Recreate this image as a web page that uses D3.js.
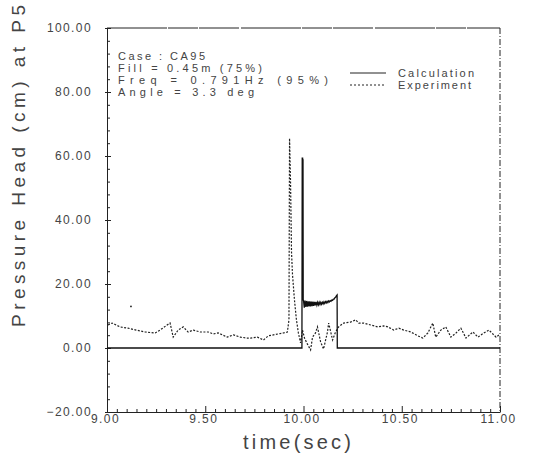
<!DOCTYPE html>
<html>
<head>
<meta charset="utf-8">
<script src="https://cdn.jsdelivr.net/npm/d3@7"></script>
<style>
  body { margin: 0; background: #fff; }
  text { font-family: "Liberation Sans", Arial, sans-serif; fill: #333; }
</style>
</head>
<body>
<div class="chart"></div>
<script>

// Axis ticks and labels
var xMajor = [9.00, 9.50, 10.00, 10.50, 11.00];
var yMajor = [-20, 0, 20, 40, 60, 80, 100];

// Annotation and legend text
var caseLines = ["Case : CA95", "Fill = 0.45m (75%)", "Freq = 0.791Hz (95%)", "Angle = 3.3 deg"];
var seriesNames = ["Calculation", "Experiment"];

// Calculation (solid): time (sec) and pressure head (cm)
var calcTime = [9.000, 9.992, 9.9935, 9.9945, 9.9955, 9.9965, 9.9975, 9.9985,
  10.000, 10.004, 10.008, 10.012, 10.016, 10.020, 10.024, 10.028, 10.032, 10.036,
  10.040, 10.044, 10.048, 10.052, 10.056, 10.060, 10.064, 10.068, 10.072, 10.076,
  10.080, 10.084, 10.088, 10.092, 10.096, 10.100, 10.104, 10.108, 10.112, 10.116,
  10.120, 10.124, 10.128, 10.132, 10.136, 10.140, 10.144, 10.148, 10.152, 10.156,
  10.160, 10.164, 10.168, 10.171, 10.172, 11.000];
var calcHead = [0, 0, 59.5, 57.0, 59.5, 57.5, 59.0, 15.0,
  14.9, 12.6, 14.8, 12.8, 14.7, 12.9, 14.6, 13.0, 14.6, 13.0,
  14.5, 13.1, 14.5, 13.2, 14.4, 13.3, 14.4, 13.4, 14.3, 13.5,
  14.3, 13.6, 14.3, 13.7, 14.3, 13.8, 14.4, 13.9, 14.5, 14.1,
  14.6, 14.2, 14.7, 14.4, 14.8, 14.6, 15.0, 14.9, 15.3, 15.3,
  15.7, 15.9, 16.4, 16.6, 0, 0];

// Experiment (dotted): time (sec) and pressure head (cm)
var expTime = [9.005, 9.026, 9.066, 9.107, 9.148, 9.194, 9.245, 9.270, 9.306, 9.321,
  9.337, 9.362, 9.388, 9.413, 9.439, 9.474, 9.515, 9.541, 9.566, 9.612,
  9.643, 9.679, 9.714, 9.730, 9.765, 9.796, 9.821, 9.847, 9.872, 9.898,
  9.918, 9.926, 9.929, 9.934, 9.939, 9.944, 9.954, 9.964, 9.974, 9.985,
  9.995, 10.005, 10.020, 10.036, 10.046, 10.061, 10.071, 10.087, 10.102, 10.122,
  10.128, 10.148, 10.163, 10.179, 10.204, 10.240, 10.265, 10.281, 10.306, 10.342,
  10.378, 10.408, 10.429, 10.459, 10.485, 10.510, 10.546, 10.582, 10.607, 10.633,
  10.658, 10.673, 10.699, 10.724, 10.750, 10.776, 10.801, 10.827, 10.862, 10.888,
  10.918, 10.944, 10.980, 10.995];
var expHead = [7.2, 7.8, 6.6, 6.2, 5.6, 5.0, 4.7, 5.6, 7.2, 7.8,
  3.4, 5.6, 6.6, 5.0, 5.6, 5.0, 5.0, 4.4, 4.7, 3.4,
  4.1, 3.4, 3.1, 3.1, 3.4, 2.5, 3.8, 4.1, 4.4, 4.7,
  5.0, 8.8, 65.5, 52.0, 30.0, 23.0, 15.0, 8.8, 4.7, 1.6,
  5.6, 3.1, 1.2, -0.6, 3.4, 4.7, 6.6, 1.9, -0.3, 5.0,
  7.8, 2.5, 5.0, 6.6, 7.8, 8.1, 8.8, 7.8, 7.8, 7.2,
  6.6, 6.9, 6.6, 5.6, 6.2, 5.6, 5.0, 3.8, 3.1, 4.7,
  7.8, 3.4, 5.6, 6.6, 3.4, 4.7, 6.2, 3.1, 5.0, 3.4,
  4.7, 5.6, 3.4, 4.1];
var expStray = [{t: 9.122, v: 13.0}];

/*
    Prepare chart
*/

  var width = 549,
      height = 459,
      margin = {top: 28, right: 50, bottom: 47, left: 107},
      format = d3.format(".2f");

  var svg = d3.select("div.chart")
              .append("svg")
                .attr("width", width)
                .attr("height", height);

  var x = d3.scaleLinear()
            .domain([9, 11])
            .range([margin.left, width - margin.right + 1]);

  var y = d3.scaleLinear()
            .domain([-20, 100])
            .range([height - margin.bottom, margin.top]);

  // Minor ticks
  var xMinor = d3.range(9, 11.001, 0.05).filter(function(d) {
    return Math.abs(d * 2 - Math.round(d * 2)) > 1e-6;
  });
  var yMinor = d3.range(-20, 100.001, 4).filter(function(d) { return d % 20 !== 0; });

  // Frame: top and right
  svg.append("line")
      .attr("x1", x(9)).attr("x2", x(11))
      .attr("y1", y(100)).attr("y2", y(100))
      .style("stroke", "#222").style("stroke-width", 1)
      .style("stroke-dasharray", "60,1,30,1,40,2");

  svg.append("line")
      .attr("x1", x(11)).attr("x2", x(11))
      .attr("y1", y(100)).attr("y2", y(-20))
      .style("stroke", "#222").style("stroke-width", 1)
      .style("stroke-dasharray", "6,2,1,2");

  // Bottom axis
  var xAxis = svg.append("g")
      .attr("transform", "translate(0," + y(-20) + ")")
      .call(d3.axisBottom(x).tickValues(xMajor).tickFormat(format)
              .tickSizeInner(-6).tickSizeOuter(0).tickPadding(2));

  svg.append("g")
      .attr("transform", "translate(0," + y(-20) + ")")
      .call(d3.axisBottom(x).tickValues(xMinor).tickFormat("")
              .tickSizeInner(-3).tickSizeOuter(0))
      .call(function(g) { g.select(".domain").remove(); });

  // Left axis
  var yAxis = svg.append("g")
      .attr("transform", "translate(" + x(9) + ",0)")
      .call(d3.axisLeft(y).tickValues(yMajor).tickFormat(function(d) {
                return d < 0 ? "\u2212" + format(-d) : format(d);
              })
              .tickSizeInner(-4).tickSizeOuter(0).tickPadding(15));

  svg.append("g")
      .attr("transform", "translate(" + x(9) + ",0)")
      .call(d3.axisLeft(y).tickValues(yMinor).tickFormat("")
              .tickSizeInner(-3).tickSizeOuter(0))
      .call(function(g) { g.select(".domain").remove(); });

  // Axis styling
  svg.selectAll(".domain, .tick line")
      .style("stroke", "#222")
      .style("stroke-width", 1);

  svg.selectAll(".tick text")
      .style("font-family", "Liberation Sans, Arial, sans-serif")
      .style("font-size", "12px")
      .style("letter-spacing", "1.4px")
      .style("fill", "#444");

  xAxis.selectAll(".tick text").attr("dx", "-2");
  yAxis.selectAll(".tick line").attr("x1", -2);

  // Axis titles
  svg.append("text")
      .attr("x", 297)
      .attr("y", 449)
      .attr("text-anchor", "middle")
      .attr("textLength", 108)
      .attr("lengthAdjust", "spacing")
      .style("font-size", "20px")
      .style("fill", "#444")
      .text("time(sec)");

  svg.append("text")
      .attr("transform", "translate(25,166) rotate(-90)")
      .attr("text-anchor", "middle")
      .attr("textLength", 322)
      .attr("lengthAdjust", "spacing")
      .style("font-size", "19px")
      .style("fill", "#444")
      .text("Pressure Head (cm) at P5");

/*
    Draw series
*/

  var line = d3.line()
      .x(function(d) { return x(d[0]); })
      .y(function(d) { return y(d[1]); });

  var calc = d3.zip(calcTime, calcHead);
  var exp = d3.zip(expTime, expHead);

  svg.append("path")
      .datum(exp)
      .attr("class", "experiment")
      .attr("d", line)
      .style("fill", "none")
      .style("stroke", "#222")
      .style("stroke-width", 1.2)
      .style("stroke-dasharray", "2,1.5");

  svg.selectAll(".stray")
      .data(expStray)
    .enter().append("circle")
      .attr("class", "stray")
      .attr("cx", function(d) { return x(d.t); })
      .attr("cy", function(d) { return y(d.v); })
      .attr("r", 0.9)
      .style("fill", "#222");

  svg.append("path")
      .datum(calc)
      .attr("class", "calculation")
      .attr("d", line)
      .style("fill", "none")
      .style("stroke", "#111")
      .style("stroke-width", 1.3);

/*
    Annotation and legend
*/

  // Lengths of the annotation lines as they are set in the picture
  var caseLength = [87, 144, 210, 136];

  svg.selectAll(".case")
      .data(caseLines)
    .enter().append("text")
      .attr("class", "case")
      .attr("x", 118)
      .attr("y", function(d, i) { return 60 + i * 12; })
      .attr("textLength", function(d, i) { return caseLength[i]; })
      .attr("lengthAdjust", "spacing")
      .style("font-size", "11px")
      .style("fill", "#444")
      .text(function(d) { return d; });

  var legend = svg.selectAll(".legend")
      .data(seriesNames)
    .enter().append("g")
      .attr("class", "legend")
      .attr("transform", function(d, i) { return "translate(350," + (73 + i * 12) + ")"; });

  legend.append("line")
      .attr("x1", 0).attr("x2", 36)
      .style("stroke", "#222")
      .style("stroke-width", 1)
      .style("stroke-dasharray", function(d, i) { return i ? "2,2" : null; });

  legend.append("text")
      .attr("x", 48)
      .attr("y", 4)
      .attr("textLength", function(d, i) { return i ? 73 : 76; })
      .attr("lengthAdjust", "spacing")
      .style("font-size", "11px")
      .style("fill", "#444")
      .text(function(d) { return d; });

</script>
</body>
</html>
